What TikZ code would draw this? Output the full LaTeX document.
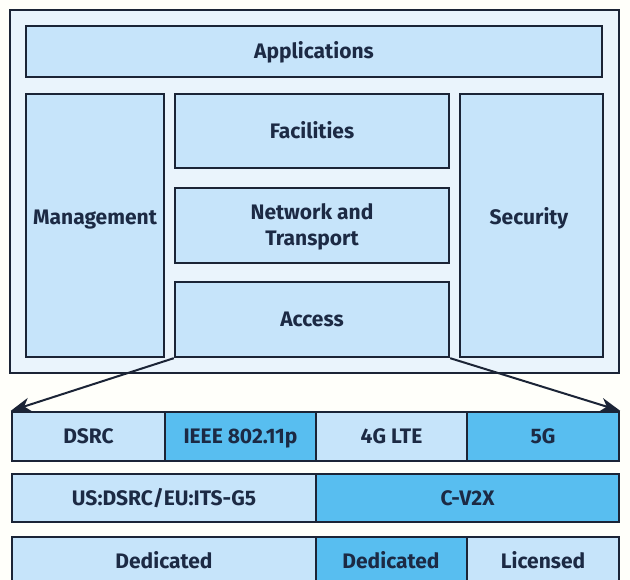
\documentclass[tikz,border=0pt]{standalone}
\usepackage{fontspec}
\setmainfont{Fira Sans}
\usetikzlibrary{arrows.meta}
\definecolor{ln}{HTML}{1B2436}
\definecolor{lite}{HTML}{C6E4FA}
\definecolor{darkc}{HTML}{58BEF0}
\definecolor{outerc}{HTML}{EAF4FC}
\definecolor{txt}{HTML}{1C2A44}
\tikzset{
  lbl/.style={text=txt, align=center, inner sep=0pt, text height=14.5pt, text depth=0pt,
    font=\bfseries\fontsize{21}{26}\selectfont},
  box/.style={lbl, draw=ln, line width=2.4pt, fill=lite},
  twoline/.style={text height=40.5pt, text depth=0pt},
  dcell/.style={box, fill=darkc},
  outerbox/.style={draw=ln, line width=2pt, fill=outerc},
  arr/.style={draw=ln, line width=2pt, arrows={-Stealth[length=20pt,width=14pt,inset=6pt]}}
}
\newcommand\mybox[7]{\node[#2, minimum width=#5pt-#3pt, minimum height=#6pt-#4pt] (#1) at ({(#3+#5)/2},{(#4+#6)/2}) {#7};}
\begin{document}
\begin{tikzpicture}[x=1pt,y=-1pt]
\useasboundingbox (0,0) rectangle (630,580);
\fill[white!98!yellow] (0,0) rectangle (630,580);
\clip (0,0) rectangle (630,580);
\mybox{outer}{outerbox}{10}{10}{619}{373}{}
\mybox{apps}{box}{26}{26}{602}{77}{Applications}
\mybox{mgmt}{box}{26}{94}{164}{357}{}
\mybox{fac}{box}{175}{94}{449}{168}{Facilities}
\mybox{nt}{box,twoline}{175}{188}{449}{263}{Network and\\Transport}
\mybox{acc}{box}{175}{282}{449}{357}{Access}
\mybox{sec}{box}{460}{94}{603}{357}{}
\node[lbl] (mgmtl) at (95,217) {Management};
\node[lbl] (secl) at (529,217) {Security};
% row 1
\mybox{dsrc}{box}{12}{412}{165}{461}{DSRC}
\mybox{ieee}{dcell}{165}{412}{316}{461}{IEEE 802.11p}
\mybox{lte}{box}{316}{412}{467}{461}{4G LTE}
\mybox{fiveg}{dcell}{467}{412}{619}{461}{5G}
% row 2
\mybox{us}{box}{12}{474}{316}{522}{US:DSRC/EU:ITS-G5}
\mybox{cv}{dcell}{316}{474}{619}{522}{C-V2X}
% row 3
\mybox{dedA}{box}{12}{537}{316}{640}{}
\mybox{dedB}{dcell}{316}{537}{467}{640}{}
\mybox{lic}{box}{467}{537}{619}{640}{}
\node[lbl] (dedAl) at (164,561) {Dedicated};
\node[lbl] (dedBl) at (391,561) {Dedicated};
\node[lbl] (licl) at (543,561) {Licensed};
% arrows
\draw[arr] (acc.south west) -- (dsrc.north west);
\draw[arr] (acc.south east) -- (fiveg.north east);
\end{tikzpicture}
\end{document}
